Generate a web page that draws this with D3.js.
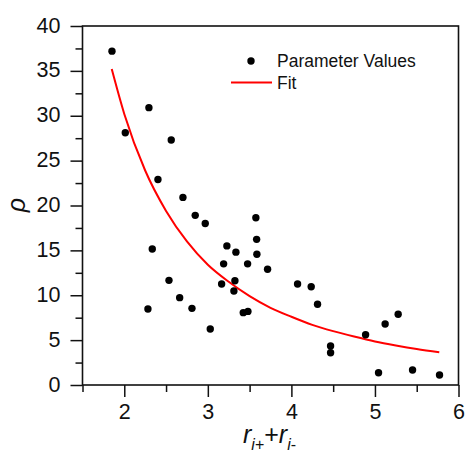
<!DOCTYPE html>
<html lang="en">
<head>
    <meta charset="UTF-8">
    <title>rho vs r</title>
    <script src="https://d3js.org/d3.v7.min.js"></script>
    <style>
        body {margin: 0; background: white;}
        text {font-family: "Liberation Sans", Arial, sans-serif; fill: #111;}
    </style>
</head>
<body>
<script>
    const width = 467;
    const height = 461;
    const margin = {top: 26, right: 8.5, bottom: 76, left: 82.5};

    // measured points
    const pointX = [1.853, 2.295, 2.012, 2.562, 2.403, 2.702, 2.849, 2.969, 2.335, 3.575,
                    3.584, 3.228, 3.336, 3.587, 3.189, 3.476, 3.715, 3.165, 3.324, 3.312,
                    3.424, 3.480, 3.029, 4.074, 4.237, 4.313, 4.469, 4.469, 4.888, 5.122,
                    5.278, 5.043, 5.450, 5.773, 2.283, 2.535, 2.663, 2.810];
    const pointY = [37.2, 30.9, 28.1, 27.3, 22.9, 20.9, 18.9, 18.0, 15.15, 18.64,
                    16.23, 15.5, 14.8, 14.56, 13.5, 13.5, 12.9, 11.25, 11.62, 10.47,
                    8.06, 8.2, 6.24, 11.25, 10.95, 8.99, 4.35, 3.6, 5.6, 6.8,
                    7.88, 1.37, 1.67, 1.11, 8.47, 11.66, 9.73, 8.54];

    // fit curve
    const fitX = [1.85, 2, 2.25, 2.5, 2.75, 3, 3.25, 3.5, 3.75, 4, 4.25, 4.5, 4.75, 5, 5.25, 5.5, 5.77];
    const fitY = [35.2, 30.2, 23.9, 19.4, 16.0, 13.4, 11.5, 9.9, 8.6, 7.6, 6.7, 6.0, 5.4, 4.85, 4.4, 4.0, 3.64];

    const xTicks = [2, 3, 4, 5, 6];
    const xMinor = [1.5, 2.5, 3.5, 4.5, 5.5];
    const yTicks = [0, 5, 10, 15, 20, 25, 30, 35, 40];
    const yMinor = [2.5, 7.5, 12.5, 17.5, 22.5, 27.5, 32.5, 37.5];

    const legendLabels = ["Parameter Values", "Fit"];

    const svg = d3.select("body").append("svg")
            .attr("width", width).attr("height", height);

    const x = d3.scaleLinear().domain([1.5, 6]).range([margin.left, width - margin.right]);
    const y = d3.scaleLinear().domain([0, 40]).range([height - margin.bottom, margin.top]);

    const points = pointX.map((v, i) => ({x: v, y: pointY[i]}));
    const fit = fitX.map((v, i) => ({x: v, y: fitY[i]}));

    // axes
    const xAxis = svg.append("g")
            .attr("transform", `translate(0,${y(0)})`)
            .call(d3.axisBottom(x).tickValues(xTicks).tickFormat(d3.format("d"))
                    .tickSize(12).tickSizeOuter(0).tickPadding(4));
    svg.append("g")
            .attr("transform", `translate(0,${y(0)})`)
            .call(d3.axisBottom(x).tickValues(xMinor).tickSize(7).tickFormat("").tickSizeOuter(0));

    const yAxis = svg.append("g")
            .attr("transform", `translate(${x(1.5)},0)`)
            .call(d3.axisLeft(y).tickValues(yTicks).tickFormat(d3.format("d"))
                    .tickSize(12).tickSizeOuter(0).tickPadding(10));
    svg.append("g")
            .attr("transform", `translate(${x(1.5)},0)`)
            .call(d3.axisLeft(y).tickValues(yMinor).tickSize(7).tickFormat("").tickSizeOuter(0));

    svg.selectAll(".tick line").style("stroke", "#111").style("stroke-width", 1.5);
    svg.selectAll(".domain").remove();
    svg.selectAll(".tick text").style("font-size", "21.5px").style("fill", "#111");
    yAxis.selectAll(".tick text").attr("dy", "0.28em");
    xAxis.selectAll(".tick text").attr("dy", "0.85em");

    // frame
    svg.append("rect")
            .attr("x", x(1.5)).attr("y", y(40))
            .attr("width", x(6) - x(1.5)).attr("height", y(0) - y(40))
            .style("fill", "none")
            .style("stroke", "#111")
            .style("stroke-width", 1.6);

    // fit line
    const line = d3.line().x(d => x(d.x)).y(d => y(d.y)).curve(d3.curveMonotoneX);
    svg.append("path")
            .datum(fit)
            .attr("d", line)
            .style("fill", "none")
            .style("stroke", "#f00")
            .style("stroke-width", 2);

    // points
    svg.selectAll("circle.pt")
            .data(points)
            .enter()
            .append("circle")
            .attr("class", "pt")
            .attr("cx", d => x(d.x))
            .attr("cy", d => y(d.y))
            .attr("r", 3.7)
            .style("fill", "black");

    // legend
    const lg = svg.append("g").attr("class", "legend");
    lg.append("circle").attr("cx", 251).attr("cy", 61).attr("r", 3.7).style("fill", "black");
    lg.append("line").attr("x1", 231).attr("x2", 272).attr("y1", 82.5).attr("y2", 82.5)
            .style("stroke", "#f00").style("stroke-width", 2);
    lg.selectAll("text")
            .data(legendLabels)
            .enter()
            .append("text")
            .attr("x", 277)
            .attr("y", (d, i) => 67 + i * 21.5)
            .style("font-size", "17.5px")
            .text(d => d);

    // axis titles
    const xt = svg.append("text")
            .attr("x", 243).attr("y", 443)
            .style("font-size", "25px");
    xt.append("tspan").style("font-style", "italic").text("r");
    xt.append("tspan").attr("dy", 7).style("font-size", "16px").style("font-style", "italic").text("i");
    xt.append("tspan").style("font-size", "16px").text("+");
    xt.append("tspan").attr("dy", -7).text("+");
    xt.append("tspan").style("font-style", "italic").text("r");
    xt.append("tspan").attr("dy", 7).style("font-size", "16px").style("font-style", "italic").text("i");
    xt.append("tspan").style("font-size", "16px").text("-");

    svg.append("text")
            .attr("transform", "translate(25,205) rotate(-90)")
            .attr("text-anchor", "middle")
            .style("font-size", "25px")
            .style("font-style", "italic")
            .text("ρ");
</script>
</body>
</html>
